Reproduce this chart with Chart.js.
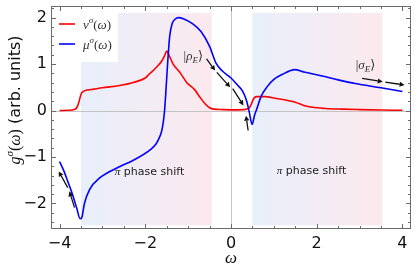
<!DOCTYPE html>
<html>
<head>
<meta charset="utf-8">
<script src="https://cdn.jsdelivr.net/npm/chart.js@4.4.1/dist/chart.umd.min.js"></script>
<style>
  html, body { margin: 0; padding: 0; background: #fff; }
</style>
</head>
<body>
<canvas id="chart" width="415" height="268"></canvas>
<script>
// Data
const nuOmega = [-4.0, -3.8, -3.66, -3.6, -3.55, -3.5, -3.45, -3.4, -3.2, -3.0, -2.6, -2.3, -2.0, -1.9, -1.75,
  -1.62, -1.55, -1.5, -1.45, -1.35, -1.2, -1.03, -0.85, -0.72, -0.6, -0.5, -0.4, -0.2, 0.0, 0.3, 0.42,
  0.48, 0.53, 0.6, 0.8, 1.0, 1.3, 1.5, 1.7, 1.9, 2.2, 2.6, 3.0, 3.5, 4.0];
const nuValues = [0.0, 0.005, 0.02, 0.06, 0.18, 0.35, 0.41, 0.43, 0.46, 0.49, 0.54, 0.6, 0.7, 0.79, 0.92,
  1.06, 1.18, 1.28, 1.2, 1.0, 0.83, 0.6, 0.45, 0.28, 0.14, 0.06, 0.03, 0.02, 0.015, 0.02, 0.05,
  0.15, 0.26, 0.3, 0.3, 0.27, 0.22, 0.18, 0.11, 0.07, 0.045, 0.03, 0.02, 0.01, 0.005];

const muOmega = [-4.0, -3.9, -3.8, -3.7, -3.6, -3.52, -3.48, -3.42, -3.3, -3.05, -2.9, -2.58, -2.3, -1.88,
  -1.75, -1.68, -1.62, -1.58, -1.55, -1.52, -1.48, -1.43, -1.37, -1.3, -1.23, -1.1, -0.9, -0.7, -0.5, -0.35,
  -0.2, 0.0, 0.15, 0.27, 0.36, 0.43, 0.49, 0.55, 0.6, 0.7, 0.85, 1.0, 1.2, 1.49, 1.7, 2.1, 2.5, 2.9,
  3.5, 4.0];
const muValues = [-1.1, -1.3, -1.55, -1.8, -2.1, -2.33, -2.3, -2.0, -1.7, -1.44, -1.35, -1.2, -1.08, -0.84,
  -0.72, -0.6, -0.45, -0.25, 0.0, 0.4, 1.0, 1.6, 1.88, 1.97, 2.0, 1.97, 1.87, 1.7, 1.38, 1.02,
  0.85, 0.7, 0.55, 0.42, 0.22, -0.05, -0.3, -0.1, 0.03, 0.3, 0.52, 0.67, 0.78, 0.88, 0.83, 0.75, 0.66, 0.58,
  0.49, 0.41];

const xTickValues = [-4, -2, 0, 2, 4];
const yTickValues = [-2, -1, 0, 1, 2];

// shaded "pi phase shift" windows, in omega
const shadeRanges = [[-3.5, -0.45], [0.5, 3.53]];

// annotation arrows [tailX, tailY, headX, headY] in data units
const arrowList = [
  [-3.81, -1.66, -4.02, -1.31],
  [-3.65, -2.09, -3.77, -1.74],
  [-0.57, 1.11, -0.37, 0.86],
  [-0.33, 0.82, -0.02, 0.5],
  [0.04, 0.47, 0.29, 0.11],
  [0.4, -0.43, 0.35, -0.11],
  [3.06, 0.69, 3.54, 0.62],
  [3.6, 0.61, 4.05, 0.55]
];

const SERIF = '"Liberation Serif", "DejaVu Serif", serif';
const SANS = '"DejaVu Sans", "Liberation Sans", sans-serif';
const FRAME = '#6a6a6a';

function segFont(seg, size) {
  let s = size;
  if (seg.sup || seg.sub) s = size * 0.7;
  if (seg.sans) return s + 'px ' + SANS;
  return (seg.it ? 'italic ' : '') + s + 'px ' + SERIF;
}

// draw a run of text pieces, baseline at y
function drawMath(ctx, segs, x, y, size, align) {
  let total = 0;
  segs.forEach(seg => {
    ctx.font = segFont(seg, size);
    seg.w = ctx.measureText(seg.t).width;
    total += seg.w;
  });
  let cx = x;
  if (align === 'center') cx = x - total / 2;
  ctx.textBaseline = 'alphabetic';
  ctx.textAlign = 'left';
  segs.forEach(seg => {
    ctx.font = segFont(seg, size);
    let dy = 0;
    if (seg.sup) dy = -size * 0.42;
    if (seg.sub) dy = size * 0.22;
    ctx.fillText(seg.t, cx, y + dy);
    cx += seg.w;
  });
}

const decorPlugin = {
  id: 'decor',
  beforeDatasetsDraw(chart) {
    const { ctx, chartArea, scales } = chart;
    const xs = scales.x, ys = scales.y;
    ctx.save();
    // shaded regions
    shadeRanges.forEach(r => {
      const x0 = xs.getPixelForValue(r[0]);
      const x1 = xs.getPixelForValue(r[1]);
      const y0 = ys.getPixelForValue(2.1);
      const y1 = ys.getPixelForValue(-2.47);
      const g = ctx.createLinearGradient(x0, 0, x1, 0);
      g.addColorStop(0, 'rgb(232,239,251)');
      g.addColorStop(1, 'rgb(252,233,238)');
      ctx.fillStyle = g;
      ctx.fillRect(x0, y0, x1 - x0, y1 - y0);
    });
    // zero lines
    ctx.strokeStyle = '#c4c4c4';
    ctx.lineWidth = 1;
    const y0 = Math.round(ys.getPixelForValue(0)) + 0.5;
    const x0 = Math.round(xs.getPixelForValue(0)) + 0.5;
    ctx.beginPath();
    ctx.moveTo(chartArea.left, y0); ctx.lineTo(chartArea.right, y0);
    ctx.moveTo(x0, chartArea.top); ctx.lineTo(x0, chartArea.bottom);
    ctx.stroke();
    // legend box
    ctx.fillStyle = '#fff';
    ctx.fillRect(chartArea.left + 1, chartArea.top + 1, 66, 55);
    ctx.restore();
  },
  afterDatasetsDraw(chart) {
    const { ctx, chartArea, scales } = chart;
    const xs = scales.x, ys = scales.y;
    ctx.save();

    // frame
    ctx.strokeStyle = FRAME;
    ctx.lineWidth = 1;
    ctx.strokeRect(chartArea.left + 0.5, chartArea.top + 0.5,
      chartArea.right - chartArea.left - 1, chartArea.bottom - chartArea.top - 1);

    // inside ticks on all four sides
    ctx.beginPath();
    for (let i = -8; i <= 8; i++) {
      const v = i * 0.5;
      const px = Math.round(xs.getPixelForValue(v)) + 0.5;
      const len = (i % 4 === 0) ? 5 : 3;
      ctx.moveTo(px, chartArea.bottom); ctx.lineTo(px, chartArea.bottom - len);
      ctx.moveTo(px, chartArea.top); ctx.lineTo(px, chartArea.top + len);
    }
    for (let i = -12; i <= 11; i++) {
      const v = i * 0.2;
      const py = Math.round(ys.getPixelForValue(v)) + 0.5;
      const len = (i % 5 === 0) ? 5 : 3;
      ctx.moveTo(chartArea.left, py); ctx.lineTo(chartArea.left + len, py);
      ctx.moveTo(chartArea.right, py); ctx.lineTo(chartArea.right - len, py);
    }
    ctx.stroke();

    // legend
    const lx = chartArea.left + 8;
    const rows = [
      { color: 'rgb(255,0,0)', sym: 'ν', y: chartArea.top + 18 },
      { color: 'rgb(0,0,255)', sym: 'μ', y: chartArea.top + 38 }
    ];
    rows.forEach(r => {
      ctx.strokeStyle = r.color;
      ctx.lineWidth = 1.6;
      ctx.beginPath();
      ctx.moveTo(lx, r.y); ctx.lineTo(lx + 16, r.y);
      ctx.stroke();
      ctx.fillStyle = '#333';
      drawMath(ctx, [{ t: r.sym, it: true }, { t: 'σ', it: true, sup: true }, { t: '(' },
        { t: 'ω', it: true }, { t: ')' }], lx + 24, r.y + 4.5, 13, 'left');
    });

    // arrows
    ctx.strokeStyle = '#111';
    ctx.fillStyle = '#111';
    ctx.lineWidth = 1.3;
    arrowList.forEach(a => {
      const tx = xs.getPixelForValue(a[0]), ty = ys.getPixelForValue(a[1]);
      const hx = xs.getPixelForValue(a[2]), hy = ys.getPixelForValue(a[3]);
      const ang = Math.atan2(hy - ty, hx - tx);
      const hl = 5, hw = 2.6;
      const bx = hx - hl * Math.cos(ang), by = hy - hl * Math.sin(ang);
      ctx.beginPath();
      ctx.moveTo(tx, ty); ctx.lineTo(bx, by);
      ctx.stroke();
      ctx.beginPath();
      ctx.moveTo(hx, hy);
      ctx.lineTo(bx + hw * Math.sin(ang), by - hw * Math.cos(ang));
      ctx.lineTo(bx - hw * Math.sin(ang), by + hw * Math.cos(ang));
      ctx.closePath();
      ctx.fill();
    });

    // state labels
    ctx.fillStyle = '#333';
    drawMath(ctx, [{ t: '|' }, { t: 'ρ', it: true }, { t: 'E', it: true, sub: true }, { t: '\u27E9' }],
      xs.getPixelForValue(-0.88), ys.getPixelForValue(1.18) + 4, 13, 'center');
    drawMath(ctx, [{ t: '|' }, { t: 'σ', it: true }, { t: 'E', it: true, sub: true }, { t: '\u27E9' }],
      xs.getPixelForValue(3.14), ys.getPixelForValue(0.97) + 4, 13, 'center');

    // phase shift labels
    ctx.fillStyle = '#222';
    [[-1.9, -1.31], [1.88, -1.27]].forEach(p => {
      drawMath(ctx, [{ t: 'π', it: true }, { t: ' phase shift', sans: true }],
        xs.getPixelForValue(p[0]), ys.getPixelForValue(p[1]) + 4, 11, 'center');
    });

    // axis titles
    ctx.fillStyle = '#111';
    drawMath(ctx, [{ t: 'ω', it: true }], xs.getPixelForValue(0), 263, 17, 'center');
    ctx.translate(14, 100);
    ctx.rotate(-Math.PI / 2);
    drawMath(ctx, [{ t: 'g', it: true }, { t: 'σ', it: true, sup: true }, { t: '(' }, { t: 'ω', it: true },
      { t: ')' }, { t: ' (arb. units)', sans: true }], 0, 6, 16, 'center');
    ctx.restore();
  }
};

function toPoints(xsArr, ysArr) {
  return xsArr.map((x, i) => ({ x: x, y: ysArr[i] }));
}

function fmtTick(v) {
  return v < 0 ? '\u2212' + Math.abs(v) : String(v);
}

const chart = new Chart(document.getElementById('chart'), {
  type: 'line',
  data: {
    datasets: [
      {
        label: 'nu',
        data: toPoints(nuOmega, nuValues),
        borderColor: 'rgb(255,0,0)',
        borderWidth: 1.6,
        pointRadius: 0,
        cubicInterpolationMode: 'monotone',
        order: 2
      },
      {
        label: 'mu',
        data: toPoints(muOmega, muValues),
        borderColor: 'rgb(0,0,255)',
        borderWidth: 1.6,
        pointRadius: 0,
        cubicInterpolationMode: 'monotone',
        order: 1
      }
    ]
  },
  options: {
    responsive: false,
    animation: false,
    devicePixelRatio: 1,
    layout: { padding: { top: 6, right: 4, left: 0, bottom: 0 } },
    plugins: { legend: { display: false }, tooltip: { enabled: false } },
    scales: {
      x: {
        type: 'linear',
        min: -4.2,
        max: 4.2,
        afterBuildTicks: (s) => { s.ticks = xTickValues.map(v => ({ value: v })); },
        afterFit: (s) => { s.height = 39; s.paddingLeft = 0; s.paddingRight = 0; },
        grid: { display: false, drawTicks: false },
        border: { display: false },
        ticks: {
          callback: fmtTick,
          padding: 5,
          maxRotation: 0,
          color: '#111',
          font: { family: 'DejaVu Sans', size: 16 }
        }
      },
      y: {
        type: 'linear',
        min: -2.55,
        max: 2.25,
        afterBuildTicks: (s) => { s.ticks = yTickValues.map(v => ({ value: v })); },
        afterFit: (s) => { s.width = 51; s.paddingTop = 0; s.paddingBottom = 0; },
        grid: { display: false, drawTicks: false },
        border: { display: false },
        ticks: {
          callback: fmtTick,
          padding: 4,
          color: '#111',
          font: { family: 'DejaVu Sans', size: 16 }
        }
      }
    }
  },
  plugins: [decorPlugin]
});
</script>
</body>
</html>
